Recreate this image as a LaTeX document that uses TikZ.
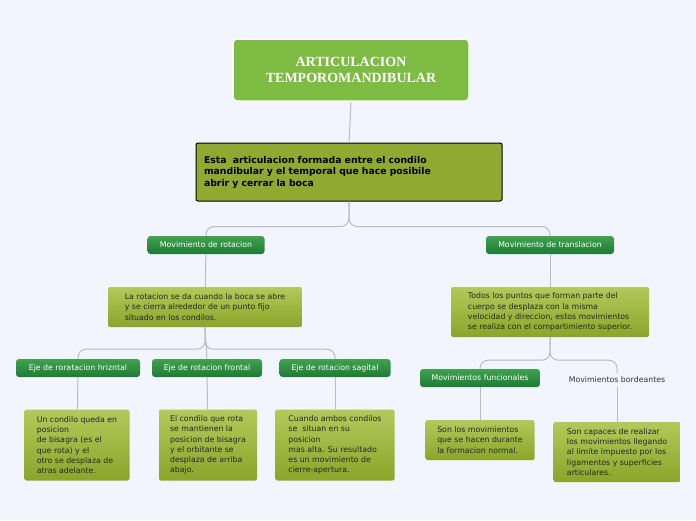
\documentclass[tikz,border=0pt]{standalone}
\usepackage{fontspec}
\setmainfont{DejaVu Sans}
\newfontfamily\titlefont{Liberation Serif}
\usetikzlibrary{positioning,calc}
\definecolor{bgblue}{HTML}{F2F5FE}
\definecolor{titlegreen}{HTML}{7DBB42}
\definecolor{olivetop}{HTML}{B3C95A}
\definecolor{olivebot}{HTML}{8AA52A}
\definecolor{darkgtop}{HTML}{3FA34F}
\definecolor{darkgbot}{HTML}{1E7A34}
\definecolor{linegray}{HTML}{B8BCC4}
\tikzset{
  topic/.style={rounded corners=3pt, top color=darkgtop, bottom color=darkgbot,
    text=white, font=\fontsize{7.8}{9}\selectfont, inner sep=2pt, minimum height=18pt},
  infobox/.style={rounded corners=2pt, top color=olivetop, bottom color=olivebot,
    text=black!85, font=\fontsize{7.8}{10.2}\selectfont, align=left, inner sep=5pt}, 
  link/.style={draw=linegray, line width=1pt, rounded corners=8pt}
}
\begin{document}
\begin{tikzpicture}[x=1pt,y=-1pt]
\fill[bgblue] (0,0) rectangle (696,520);
\useasboundingbox (0,0) rectangle (696,520);

\node[draw=white, line width=1.5pt, fill=titlegreen, rounded corners=4pt, text=white,
  minimum width=236pt, minimum height=62pt, align=center,
  font=\titlefont\bfseries\fontsize{14}{16}\selectfont] (title) at (351,70)
  {ARTICULACION\\TEMPOROMANDIBULAR};
\node[draw=black, line width=1pt, fill=olivebot!85!olivetop, rounded corners=2pt,
  minimum width=306pt, minimum height=58pt, text width=290pt, align=left,
  font=\bfseries\fontsize{9.3}{11.5}\selectfont] (main) at (349,172)
  {Esta\ \ articulacion formada entre el condilo\\mandibular y el temporal que hace posibile\\abrir y cerrar la boca};

\node[topic, minimum width=117pt] (movrot) at (206,245) {Movimiento de rotacion};
\node[topic, minimum width=128pt] (movtras) at (550,245) {Movimiento de translacion};

\node[infobox, minimum width=194pt, minimum height=40pt] (rotdesc) at (205,307)
  {La rotacion se da cuando la boca se abre\\y se cierra alrededor de un punto fijo\\situado en los condilos.};
\node[infobox, minimum width=198pt, minimum height=50pt] (trasdesc) at (550,312)
  {Todos los puntos que forman parte del\\cuerpo se desplaza con la misma\\velocidad y direccion, estos movimientos\\se realiza con el compartimiento superior.};

\node[topic, minimum width=124pt] (ejehor) at (78,368) {Eje de roratacion hriznt{a}l};
\node[topic, minimum width=110pt] (ejefro) at (207,368) {Eje de rotacion frontal};
\node[topic, minimum width=111pt] (ejesag) at (335,368) {Eje de rotacion sagital};

\node[infobox, minimum width=105pt, minimum height=71pt] (deschor) at (77,445)
  {Un condilo queda en\\posicion\\de bisagra (es el\\que rota) y el\\otro se desplaza de\\atras adelante.};
\node[infobox, minimum width=98pt, minimum height=71pt] (descfro) at (208,445)
  {El condilo que rota\\se mantienen la\\posicion de bisagra\\y el orbitante se\\desplaza de arriba\\abajo.};
\node[infobox, minimum width=119pt, minimum height=71pt] (descsag) at (335,445)
  {Cuando ambos condilos\\se\ \ situan en su\\posicion\\mas alta. Su resultado\\es un movimiento de\\cierre-apertura.};

\node[topic, minimum width=120pt] (movfun) at (480,378) {Movimientos funcionales};
\node[font=\fontsize{7.8}{9}\selectfont, text=black!80] (movbor) at (617,380) {Movimientos bordeantes};

\node[infobox, minimum width=109pt, minimum height=40pt] (descfun) at (480,440)
  {Son los movimientos\\que se hacen durante\\la formacion normal.};
\node[infobox, minimum width=127pt, minimum height=60pt] (descbor) at (617,452)
  {Son capaces de realizar\\los movimientos llegando\\al limite impuesto por los\\ligamentos y superficies\\articulares.};

% connectors
\draw[link] (title.south) -- (main.north);
\draw[link] (main.south) -- ++(0,25) -| (movrot.north);
\draw[link] (main.south) -- ++(0,25) -| (movtras.north);
\draw[link] (movrot) -- (rotdesc);
\draw[link] (movtras) -- (trasdesc);
\draw[link] (rotdesc.south) -- ++(0,22) -| (ejehor.north);
\draw[link] (rotdesc.south) -- (ejefro.north);
\draw[link] (rotdesc.south) -- ++(0,22) -| (ejesag.north);
\draw[link] (trasdesc.south) -- ++(0,23) -| (movfun.north);
\draw[link] (trasdesc.south) -- ++(0,23) -| (movbor.north);
\draw[link] (ejehor) -- (deschor);
\draw[link] (ejefro) -- (descfro);
\draw[link] (ejesag) -- (descsag);
\draw[link] (movfun) -- (descfun);
\draw[link] (movbor) -- (descbor);
\end{tikzpicture}
\end{document}
